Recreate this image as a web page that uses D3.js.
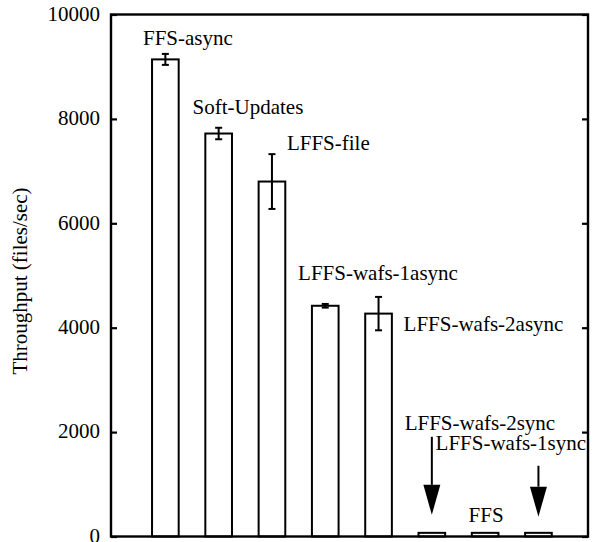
<!DOCTYPE html>
<html>
<head>
<meta charset="utf-8">
<script src="https://cdn.jsdelivr.net/npm/d3@7"></script>
<style>
  html, body { margin: 0; padding: 0; background: #fff; }
</style>
</head>
<body>
<svg id="chart" width="594" height="542" font-family="'Liberation Serif', 'Times New Roman', Times, 'DejaVu Serif', serif"></svg>
<script>
// ---- data ----
const categories = ["FFS-async", "Soft-Updates", "LFFS-file", "LFFS-wafs-1async",
                    "LFFS-wafs-2async", "LFFS-wafs-2sync", "FFS", "LFFS-wafs-1sync"];
const throughput = [9140, 7720, 6800, 4420, 4270, 70, 70, 70];
const errors     = [105, 110, 525, 35, 320, 0, 0, 0];
const yTicks     = [0, 2000, 4000, 6000, 8000, 10000];
// label anchors in data units (x = bar slot, y = throughput)
const labelX = [0.58, 1.51, 3.28, 3.49, 5.47, 5.49, 6.69, 6.07];
const labelY = [9420, 8095, 7410, 4920, 3945, 2035, 286, 1650];
// arrows (bar index, start value, tip value)
const arrowBar  = [5, 7];
const arrowFrom = [1910, 1355];
const arrowTo   = [415, 380];

// ---- layout ----
const svg = d3.select("#chart");
const pLeft = 111, pRight = 588, pTop = 14.5, pBottom = 536.5;
const x = d3.scaleLinear().domain([-0.02, 8.93]).range([pLeft, pRight]);
const y = d3.scaleLinear().domain([0, 10000]).range([pBottom, pTop]);
const barW = x(0.5) - x(0);
const FS = 21;
const FONT = "'Liberation Serif', 'Times New Roman', Times, 'DejaVu Serif', serif";

// bars
svg.append("g").selectAll("rect").data(throughput).join("rect")
  .attr("x", (d, i) => x(i + 1) - barW / 2)
  .attr("y", d => y(d))
  .attr("width", barW)
  .attr("height", d => y(0) - y(d))
  .attr("fill", "#fff")
  .attr("stroke", "#000")
  .attr("stroke-width", 2);

// error bars
const eg = svg.append("g").attr("stroke", "#000").attr("stroke-width", 2);
throughput.forEach((v, i) => {
  const e = errors[i];
  if (!e) return;
  const cx = x(i + 1);
  eg.append("line").attr("x1", cx).attr("x2", cx).attr("y1", y(v - e)).attr("y2", y(v + e));
  [v - e, v + e].forEach(t => {
    eg.append("line").attr("x1", cx - 3.5).attr("x2", cx + 3.5).attr("y1", y(t)).attr("y2", y(t));
  });
});

// frame
svg.append("rect")
  .attr("x", pLeft).attr("y", pTop)
  .attr("width", pRight - pLeft).attr("height", pBottom - pTop)
  .attr("fill", "none").attr("stroke", "#000").attr("stroke-width", 2.4);

// inward ticks on both sides
const leftAxis = d3.axisRight(y).tickValues(yTicks).tickSize(6).tickFormat("");
const gl = svg.append("g").attr("transform", `translate(${pLeft},0)`).call(leftAxis);
gl.select(".domain").remove();
gl.selectAll(".tick line").attr("stroke-width", 2.2);

const rightAxis = d3.axisLeft(y).tickValues(yTicks).tickSize(6).tickFormat("");
const gr = svg.append("g").attr("transform", `translate(${pRight},0)`).call(rightAxis);
gr.select(".domain").remove();
gr.selectAll(".tick line").attr("stroke-width", 2.2);

// tick labels
svg.append("g").selectAll("text").data(yTicks).join("text")
  .attr("x", 100)
  .attr("y", d => y(d))
  .attr("dy", "0.3em")
  .attr("text-anchor", "end")
  .attr("font-family", FONT)
  .attr("font-size", FS)
  .text(d => d);

// y label
svg.append("text")
  .attr("transform", "translate(27,281) rotate(-90)")
  .attr("text-anchor", "middle")
  .attr("font-family", FONT)
  .attr("font-size", FS)
  .text("Throughput (files/sec)");

// bar labels
svg.append("g").selectAll("text").data(categories).join("text")
  .attr("x", (d, i) => x(labelX[i]))
  .attr("y", (d, i) => y(labelY[i]))
  .attr("font-family", FONT)
  .attr("font-size", FS)
  .text(d => d);

// arrows
const ag = svg.append("g");
arrowBar.forEach((b, i) => {
  const cx = x(b + 1);
  const tip = y(arrowTo[i]);
  const base = tip - 30;
  ag.append("line").attr("x1", cx).attr("x2", cx)
    .attr("y1", y(arrowFrom[i])).attr("y2", base)
    .attr("stroke", "#000").attr("stroke-width", 2);
  ag.append("path")
    .attr("d", `M${cx - 8.5},${base} L${cx + 8.5},${base} L${cx},${tip} Z`)
    .attr("fill", "#000");
});
</script>
</body>
</html>
